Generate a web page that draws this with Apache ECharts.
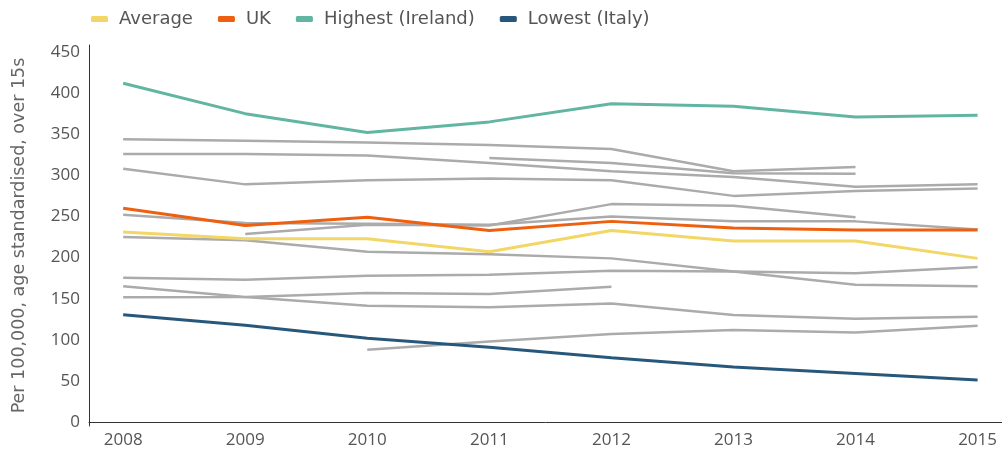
<!DOCTYPE html>
<html>
<head>
<meta charset="UTF-8">
<title></title>
<script src="https://cdn.jsdelivr.net/npm/echarts@6/dist/echarts.min.js"></script>
<style>
  * { padding: 0; margin: 0; }
  #main { width: 1002px; height: 455px; }
</style>
</head>
<body>
<div id="main"></div>
<script>
var years = [2008, 2009, 2010, 2011, 2012, 2013, 2014, 2015];
var yTicks = [0, 50, 100, 150, 200, 250, 300, 350, 400, 450];

var average = [231, 223, 223, 207, 233, 220, 220, 199];
var uk = [260, 239, 249, 233, 244, 236, 233.5, 233.5];
var ireland = [412, 375, 352, 365, 387, 384, 371, 373];
var italy = [130.5, 117.6, 102, 91, 78, 67, 59, 51];

// other countries (grey), null = no data
var others = [
  [344, 342, 340, 337, 332, 305, 310, null],
  [326, 326, 324, 315, 305, 298, 286, 289],
  [308, 289, 294, 296, 294, 275, 281, 284],
  [252, 242, 241, 240, 250, 244, 244, 234],
  [225, 221, 207, 204, 199, 183, 167, 165],
  [175.5, 173, 178, 179, 184, 183, 181, 188.5],
  [165, 152, 141.5, 139.5, 144, 130, 125.6, 128],
  [151.6, 152, 157, 155.7, 164.6, null, null, null],
  [null, 228.5, 240, 239, 265, 263, 249, null],
  [null, null, null, 321, 315, 302.5, 302, null],
  [null, null, 88, 98, 107, 112, 109, 117]
];

function pairs(vals) {
  return years.map(function (y, i) { return [y, vals[i]]; });
}

var series = [];
others.forEach(function (vals, i) {
  series.push({
    name: 'other' + i,
    type: 'line',
    data: pairs(vals),
    symbol: 'none',
    connectNulls: false,
    lineStyle: { color: '#ababab', width: 2.5 },
    itemStyle: { color: '#ababab' },
    z: 1,
    silent: true
  });
});

var main = [
  ['Average', average, '#f2d666'],
  ['UK', uk, '#ee5f0f'],
  ['Highest (Ireland)', ireland, '#62b5a3'],
  ['Lowest (Italy)', italy, '#28577c']
];
main.forEach(function (m) {
  series.push({
    name: m[0],
    type: 'line',
    data: pairs(m[1]),
    symbol: 'none',
    lineStyle: { color: m[2], width: 3 },
    itemStyle: { color: m[2] },
    z: 3
  });
});

var myChart = echarts.init(document.getElementById('main'));
myChart.setOption({
  animation: false,
  textStyle: { fontFamily: 'Open Sans' },
  legend: {
    data: ['Average', 'UK', 'Highest (Ireland)', 'Lowest (Italy)'],
    left: 86,
    top: 5,
    icon: 'roundRect',
    itemWidth: 17,
    itemHeight: 6,
    itemGap: 25,
    textStyle: { color: '#555', fontSize: 18, fontFamily: 'DejaVu Sans', padding: [0, 0, 0, 6] }
  },
  grid: {
    left: 89,
    right: 0,
    top: 45,
    bottom: 29,
    containLabel: false,
    outerBoundsMode: 'none'
  },
  xAxis: {
    type: 'value',
    min: 2007.72,
    max: 2015.2,
    splitLine: { show: false },
    axisTick: { show: false },
    axisLine: { show: true, lineStyle: { color: '#333', width: 1 } },
    axisLabel: {
      customValues: years,
      formatter: function (v) { return String(v); },
      color: '#555',
      fontSize: 17,
      margin: 6
    }
  },
  yAxis: {
    type: 'value',
    min: -4.86,
    max: 458.5,
    name: 'Per 100,000, age standardised, over 15s',
    nameLocation: 'middle',
    nameGap: 61,
    nameTextStyle: { color: '#666', fontSize: 17.5, fontFamily: 'DejaVu Sans' },
    splitLine: { show: false },
    axisTick: { show: false },
    axisLine: { show: true, lineStyle: { color: '#333', width: 1 } },
    axisLabel: {
      customValues: yTicks,
      color: '#555',
      fontSize: 17,
      margin: 9
    }
  },
  series: series
});
</script>
</body>
</html>
